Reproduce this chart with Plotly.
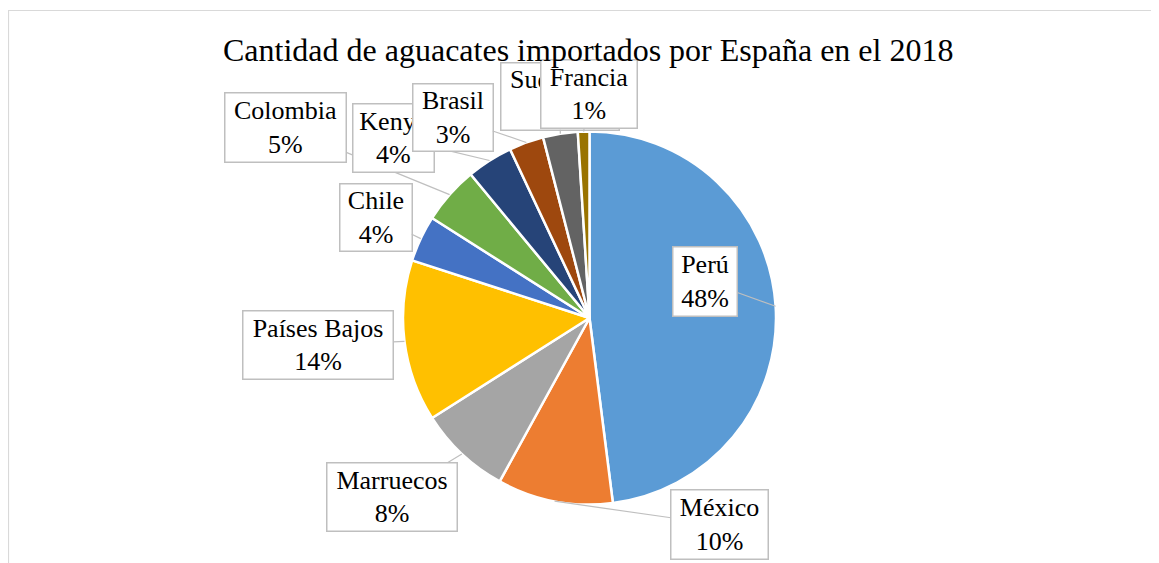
import math
import plotly.graph_objects as go

# ---------------- data ----------------
paises = ["Perú", "México", "Marruecos", "Países Bajos", "Chile",
          "Colombia", "Kenya", "Brasil", "Sudáfrica", "Francia"]
valores = [48, 10, 8, 14, 4, 5, 4, 3, 3, 1]
colores = ["#5B9BD5", "#ED7D31", "#A5A5A5", "#FFC000", "#4472C4",
           "#70AD47", "#264478", "#9E480E", "#636363", "#997300"]
titulo = "Cantidad de aguacates importados por España en el 2018"

# ---------------- layout constants ----------------
W, H = 1159, 563
OFF = 8                                  # page body margin of the html page
CX, CY, R = 589.5 - OFF, 318.0 - OFF, 186.5   # pie centre / radius in pixels
FONT = "Liberation Serif"

# label box layout (centre x, centre y, width, height) in page pixels
cajas = {
    "Perú": (705, 281, 66, 71),
    "México": (719.7, 524.7, 99, 71),
    "Marruecos": (391.7, 497, 132, 70),
    "Países Bajos": (317.8, 345, 152, 70),
    "Chile": (375.5, 217, 74, 69),
    "Colombia": (285.5, 127.5, 123, 71),
    "Kenya": (394, 137.7, 83, 70),
    "Brasil": (452.5, 117.2, 82, 69),
    "Sudáfrica": (560, 96, 120, 69),
    "Francia": (589, 94.3, 98, 70),
}

fig = go.Figure()
fig.add_trace(go.Pie(
    labels=paises, values=valores, sort=False, direction="clockwise",
    rotation=0, textinfo="none", hoverinfo="label+percent",
    marker=dict(colors=colores, line=dict(color="white", width=2.5)),
    domain=dict(x=[(CX - R) / W, (CX + R) / W],
                y=[(H - CY - R) / H, (H - CY + R) / H]),
    showlegend=False,
))

total = sum(valores)
acum = 0.0
annotations = []
for nombre, v in zip(paises, valores):
    mid = (acum + v / 2) / total
    acum += v
    ang = 2 * math.pi * mid
    px = CX + R * math.sin(ang)
    py = CY - R * math.cos(ang)
    bx, by, bw, bh = cajas[nombre]
    bx -= OFF
    by -= OFF
    pct = round(v / total * 100)
    annotations.append(dict(
        x=px / W, y=1 - py / H, xref="paper", yref="paper",
        text=f"{nombre}<br>{pct}%",
        showarrow=True, arrowhead=0, arrowwidth=1.2, arrowcolor="#BFBFBF",
        standoff=0, ax=bx - px, ay=by - py,
        width=bw - 3, height=bh - 3, borderpad=0, borderwidth=1.5,
        bordercolor="#BFBFBF", bgcolor="white",
        font=dict(family=FONT, size=26, color="black"),
        align="center", valign="middle",
    ))

annotations.append(dict(
    x=(587.5 - OFF) / W, y=1 - (50 - OFF) / H, xref="paper", yref="paper",
    text=titulo, showarrow=False, xanchor="center", yanchor="middle",
    font=dict(family=FONT, size=32, color="black"),
))

fig.update_layout(
    width=W, height=H,
    margin=dict(l=0, r=0, t=0, b=0),
    paper_bgcolor="white", plot_bgcolor="white",
    annotations=annotations,
    shapes=[dict(type="rect", xref="paper", yref="paper",
                 x0=0.5 / W, x1=1.02, y0=-0.05, y1=1 - 2.5 / H,
                 line=dict(color="#D9D9D9", width=1.2), layer="below")],
)

fig.write_html("out.html")
